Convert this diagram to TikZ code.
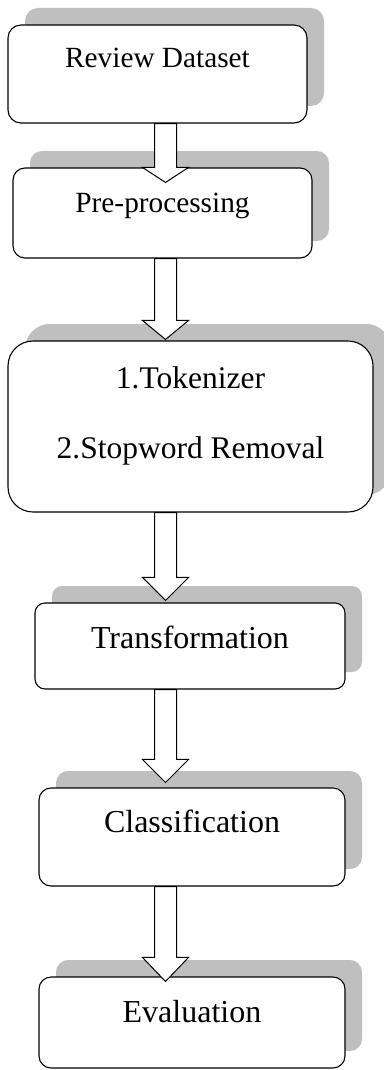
\documentclass[tikz,border=0pt]{standalone}
\usepackage{fontspec}
\setmainfont{Liberation Serif}
\usetikzlibrary{calc}
\usetikzlibrary{shadows}
\definecolor{shadegray}{gray}{0.75}
\tikzset{%
  stage/.style={rectangle,draw=black,fill=white,line width=1.1pt,inner sep=0pt,
    general shadow={fill=shadegray,shadow xshift=17pt,shadow yshift=17pt}},
  flowarrow/.style={draw=black,fill=white,line width=1pt,line join=miter}
}
\newcommand\stagefont[1]{\fontsize{#1}{#1}\selectfont}
\newcommand*\flowarrow[4]{
    \draw[flowarrow] ($(#1.south -| spine)+(-11,0)$)
        -- ($(#2.north -| spine)+(-11,#3-#4)$) -- ($(#2.north -| spine)+(-23,#3-#4)$)
        -- ($(#2.north -| spine)+(0,#3)$)
        -- ($(#2.north -| spine)+(23,#3-#4)$) -- ($(#2.north -| spine)+(11,#3-#4)$)
        -- ($(#1.south -| spine)+(11,0)$) -- cycle;
}

\begin{document}
\begin{tikzpicture}[x=1pt,y=-1pt]
    \useasboundingbox (0,0) rectangle (383,1070);
    \coordinate (spine) at (165.5,0);
    % stages of the pipeline
    \node[stage,rounded corners=13pt,minimum width=299pt,text height=43pt,text depth=55pt,
        font=\stagefont{29.3}] (review) at (157.5,74) {Review Dataset};
    \node[stage,rounded corners=12pt,minimum width=299pt,text height=44pt,text depth=46pt,
        font=\stagefont{29.3}] (prep) at (162.5,213) {Pre-processing};
    \node[stage,rounded corners=25pt,minimum width=365pt,text height=117pt,text depth=54pt,
        align=center,font=\stagefont{31.5},general shadow={fill=shadegray,shadow xshift=18pt,shadow yshift=17pt}] (tokens) at (190.5,426.5)
        {1.Tokenizer\\[38.5pt]2.Stopword Removal};
    \node[stage,rounded corners=10pt,minimum width=310pt,text height=45pt,text depth=41pt,
        font=\stagefont{32}] (transform) at (190,646) {Transformation};
    \node[stage,rounded corners=12pt,minimum width=306pt,text height=44pt,text depth=54pt,
        font=\stagefont{32}] (classify) at (192,837) {Classification};
    \node[stage,rounded corners=12pt,minimum width=306pt,text height=45pt,text depth=46pt,
        font=\stagefont{32}] (evaluate) at (192,1022.5) {Evaluation};
    % block arrows
    \flowarrow{review}{prep}{15}{15}
    \flowarrow{prep}{tokens}{-1}{19}
    \flowarrow{tokens}{transform}{-2}{23}
    \flowarrow{transform}{classify}{-5}{23}
    \flowarrow{classify}{evaluate}{5}{24}
\end{tikzpicture}
\end{document}
